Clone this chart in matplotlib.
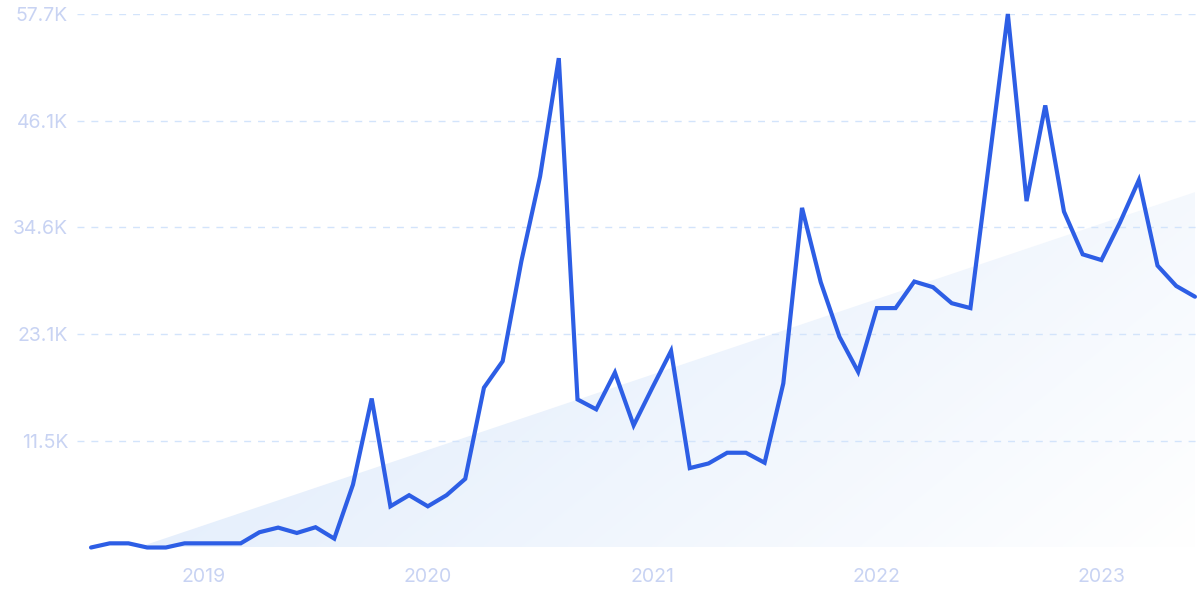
import numpy as np
import matplotlib
matplotlib.use("Agg")
import matplotlib.pyplot as plt
from matplotlib.colors import to_rgb

# ---- data (monthly, Jul 2018 .. Jun 2023) ----
values = [
    0, 450, 450, 0, 0, 450,                      # 2018 Jul-Dec
    450, 450, 450, 1650, 2150, 1570, 2190, 960, 6800, 16100, 4450, 5650,   # 2019
    4450, 5650, 7420, 17270, 20130, 30940, 40100, 52880, 16000, 14930, 18900, 13200,  # 2020
    17270, 21240, 8580, 9080, 10240, 10240, 9160, 17740, 36700, 28670, 22770, 18980,  # 2021
    25870, 25870, 28740, 28130, 26400, 25870, 41670, 57650, 37430, 47770, 36300, 31680,  # 2022
    31060, 35150, 39690, 30460, 28260, 27100,    # 2023 Jan-Jun
]
trend_start = -1700
trend_end = 38400
year_labels = ["2019", "2020", "2021", "2022", "2023"]
year_positions = [6, 18, 30, 42, 54]
y_max = 57650
y_ticks = [11530, 23060, 34590, 46120, 57650]
y_tick_labels = ["11.5K", "23.1K", "34.6K", "46.1K", "57.7K"]

plt.rcParams['font.family'] = ['Inter', 'DejaVu Sans']

fig = plt.figure(figsize=(12, 6), dpi=100)
ax = fig.add_axes([77 / 1200, 52.5 / 600, 1 - 77 / 1200, (547.5 - 14) / 600])

x = np.arange(len(values))
xlim = (-0.75, len(values) - 1 + 0.27)
ax.set_xlim(*xlim)
ax.set_ylim(0, y_max)

# trend area with gradient
trend = np.linspace(trend_start, trend_end, len(values))
xf = np.linspace(0, len(values) - 1, 400)
tf = np.interp(xf, x, trend)
tf = np.clip(tf, 0, None)
poly = ax.fill_between(xf, 0, tf, color='none', lw=0, zorder=1)

nx, ny = 300, 200
gx = np.linspace(0, 1, nx)
gy = np.linspace(0, 1, ny)  # 0 bottom
GX, GY = np.meshgrid(gx, gy)
t = np.clip(0.72 * GX + 0.28 * (1 - GY * 1.5), 0, 1)
c0 = np.array(to_rgb('#dae8fb'))
c1 = np.array(to_rgb('#ffffff'))
img = c0[None, None, :] * (1 - t[..., None]) + c1[None, None, :] * t[..., None]
im = ax.imshow(img, extent=[xlim[0], xlim[1], 0, y_max], origin='lower',
               aspect='auto', zorder=1, interpolation='bilinear')
path = poly.get_paths()[0]
im.set_clip_path(path, transform=ax.transData)

# grid
for yt in y_ticks:
    ax.axhline(yt, color='#d3e4fb', lw=1.0, dashes=(5, 5), zorder=2)

# main line
ax.plot(x, values, color='#2d5ee5', lw=3.0, zorder=3, clip_on=False,
        solid_joinstyle='miter', solid_capstyle='round')

# axes styling
for s in ax.spines.values():
    s.set_visible(False)
ax.set_yticks(y_ticks)
ax.set_yticklabels(y_tick_labels)
ax.set_xticks(year_positions)
ax.set_xticklabels(year_labels)
ax.tick_params(axis='y', length=0, pad=6.5, labelsize=14, labelcolor='#c8d3f3')
ax.tick_params(axis='x', length=0, pad=15, labelsize=14, labelcolor='#c8d3f3')

fig.savefig('out.png', dpi=100)
